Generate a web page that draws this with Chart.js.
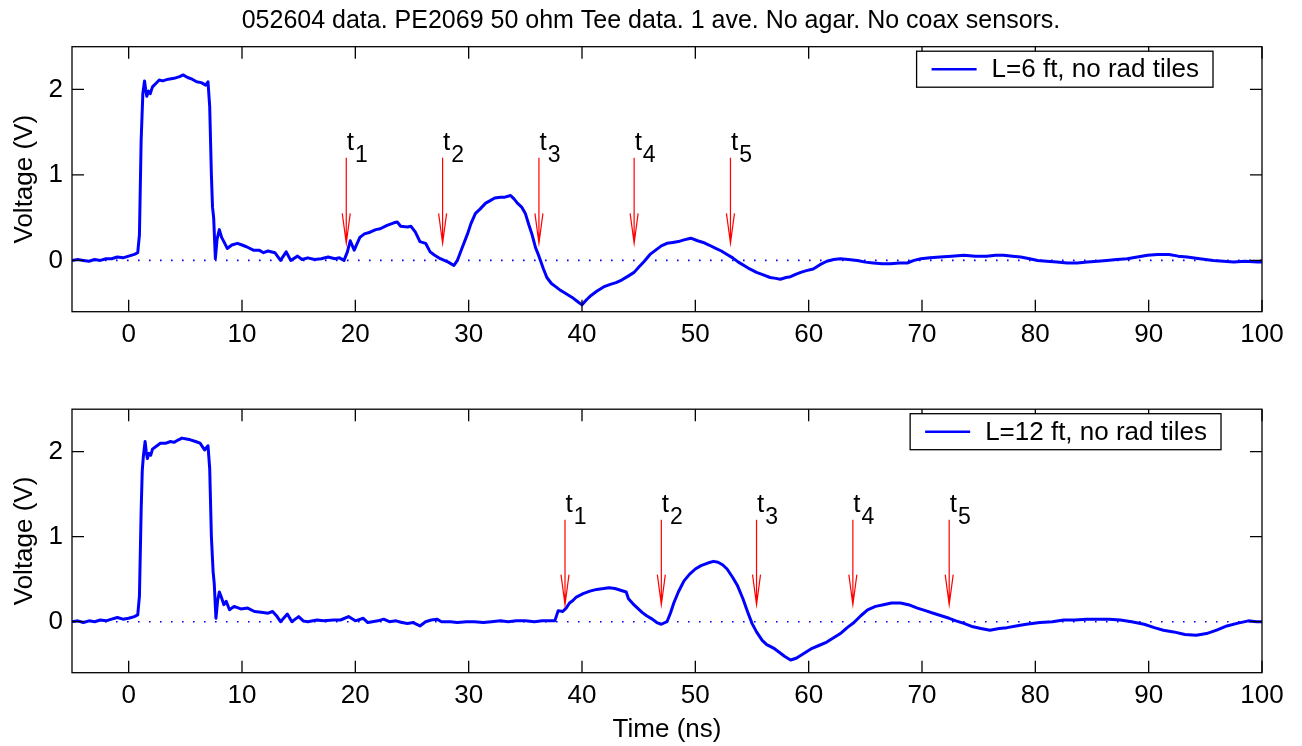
<!DOCTYPE html>
<html>
<head>
<meta charset="utf-8">
<script src="https://cdn.jsdelivr.net/npm/chart.js@4/dist/chart.umd.min.js"></script>
<style>
  html, body { margin: 0; padding: 0; background: #fff; }
  canvas { position: absolute; left: 0; }
  #top-chart { top: 0; }
  #bottom-chart { top: 360px; }
</style>
</head>
<body>
<canvas id="top-chart" width="1302" height="360"></canvas>
<canvas id="bottom-chart" width="1302" height="386"></canvas>
<script>
const figTitle = "052604 data. PE2069 50 ohm Tee data. 1 ave. No agar. No coax sensors.";
const topLabel = "L=6 ft, no rad tiles";
const bottomLabel = "L=12 ft, no rad tiles";
const xTicks = [0, 10, 20, 30, 40, 50, 60, 70, 80, 90, 100];
const yTicks = [0, 1, 2];
const xRange = [-5, 100];
const yRange = [-0.6, 2.5];
const baseline = [0, 0];

// arrow times (ns), arrows run from 1.2 V down to 0.2 V
const topArrows = [19.2, 27.7, 36.2, 44.6, 53.1];
const bottomArrows = [38.5, 47.0, 55.4, 63.9, 72.4];
const arrowSpan = [1.2, 0.2];

// [time ns, voltage V]
const topTrace = [
  [-5,0.0],[-4.5,0.01],[-4,0.0],[-3.5,-0.01],[-3,0.01],[-2.5,0.0],[-2,0.02],[-1.5,0.02],[-1,0.04],[-0.5,0.03],
  [0,0.05],[0.5,0.07],[0.8,0.09],[0.95,0.3],[1.1,1.4],[1.25,1.95],[1.4,2.1],[1.5,2.0],[1.6,1.92],[1.75,1.98],
  [1.9,1.95],[2.1,2.03],[2.4,2.07],[2.7,2.11],[3.0,2.1],[3.5,2.12],[4.0,2.13],[4.5,2.15],[4.8,2.17],[5.2,2.14],
  [5.6,2.12],[6.0,2.09],[6.4,2.08],[6.8,2.05],[7.0,2.09],[7.15,1.8],[7.3,1.0],[7.4,0.62],[7.5,0.5],[7.65,0.02],
  [7.8,0.25],[8.0,0.36],[8.2,0.27],[8.4,0.22],[8.7,0.14],[9.1,0.18],[9.6,0.2],[10.0,0.18],[10.4,0.16],[11.0,0.12],
  [11.5,0.12],[11.9,0.09],[12.3,0.11],[12.9,0.09],[13.4,0.0],[13.9,0.1],[14.3,0.0],[14.9,0.05],[15.3,0.01],[15.8,0.03],
  [16.4,0.01],[17.0,0.02],[17.6,0.04],[18.2,0.02],[18.6,0.03],[19.0,0.0],[19.3,0.1],[19.55,0.23],[19.9,0.12],[20.4,0.27],
  [20.8,0.31],[21.3,0.33],[21.8,0.36],[22.2,0.37],[22.8,0.41],[23.4,0.44],[23.7,0.45],[24.0,0.40],[24.6,0.39],[24.9,0.40],
  [25.3,0.33],[25.7,0.22],[26.2,0.2],[26.6,0.1],[27.0,0.06],[27.5,0.02],[28.2,-0.02],[28.7,-0.06],[29.0,0.0],[29.4,0.14],
  [29.9,0.31],[30.2,0.43],[30.6,0.55],[31.0,0.6],[31.5,0.67],[31.9,0.7],[32.3,0.73],[32.8,0.74],[33.2,0.74],[33.7,0.76],
  [34.0,0.72],[34.3,0.67],[34.7,0.62],[35.0,0.55],[35.3,0.42],[35.6,0.3],[35.9,0.15],[36.2,0.05],[36.6,-0.1],[36.9,-0.2],
  [37.3,-0.27],[37.7,-0.31],[38.1,-0.35],[38.6,-0.39],[39.1,-0.43],[39.6,-0.48],[40.0,-0.52],[40.4,-0.46],[40.8,-0.41],
  [41.3,-0.36],[41.9,-0.31],[42.5,-0.28],[43.0,-0.26],[43.5,-0.23],[44.0,-0.19],[44.6,-0.14],[45.0,-0.08],[45.5,-0.01],[46.0,0.07],
  [46.5,0.12],[47.0,0.17],[47.5,0.2],[48.0,0.21],[48.5,0.22],[49.0,0.24],[49.6,0.26],[50.2,0.23],[50.7,0.21],[51.2,0.18],
  [51.8,0.14],[52.3,0.11],[52.8,0.07],[53.3,0.03],[53.8,-0.02],[54.3,-0.06],[54.8,-0.1],[55.4,-0.14],[56.0,-0.17],[56.6,-0.2],
  [57.1,-0.21],[57.5,-0.22],[58.0,-0.2],[58.4,-0.19],[58.9,-0.16],[59.3,-0.14],[59.8,-0.12],[60.4,-0.1],[61.0,-0.05],[61.6,-0.01],
  [62.2,0.01],[62.8,0.02],[63.5,0.01],[64.3,0.0],[65.0,-0.02],[65.7,-0.03],[66.5,-0.04],[67.2,-0.04],[68.0,-0.03],[68.7,-0.03],
  [69.3,0.0],[69.9,0.02],[70.7,0.03],[71.6,0.04],[72.6,0.05],[73.7,0.06],[74.7,0.05],[75.7,0.05],[76.5,0.06],[77.2,0.06],
  [78.0,0.05],[78.7,0.04],[79.5,0.02],[80.2,0.0],[81.0,-0.01],[81.9,-0.02],[82.8,-0.03],[83.7,-0.03],[84.6,-0.02],[85.5,-0.01],
  [86.3,0.0],[87.2,0.01],[88.1,0.02],[89.0,0.04],[89.9,0.06],[90.8,0.07],[91.8,0.07],[92.6,0.05],[93.4,0.04],[94.5,0.02],
  [95.7,0.0],[96.6,-0.01],[97.5,-0.02],[98.5,-0.01],[99.6,-0.02],[100,-0.02]
];

const bottomTrace = [
  [-5,0.0],[-4.5,0.01],[-4,-0.01],[-3.5,0.01],[-3,0.0],[-2.5,0.02],[-2,0.01],[-1.5,0.03],[-1,0.05],[-0.5,0.03],
  [0,0.04],[0.5,0.06],[0.8,0.08],[0.95,0.3],[1.1,1.3],[1.2,1.78],[1.3,1.95],[1.45,2.12],[1.55,2.0],[1.65,1.92],
  [1.8,1.98],[1.95,1.96],[2.1,2.03],[2.5,2.07],[2.8,2.1],[3.3,2.1],[3.7,2.12],[4.0,2.11],[4.4,2.14],[4.7,2.16],
  [5.1,2.15],[5.45,2.14],[5.9,2.12],[6.3,2.1],[6.7,2.02],[7.0,2.07],[7.15,1.8],[7.3,1.0],[7.45,0.59],[7.55,0.45],
  [7.7,0.04],[7.85,0.25],[8.0,0.35],[8.2,0.28],[8.4,0.2],[8.6,0.24],[8.9,0.14],[9.3,0.18],[9.9,0.15],[10.5,0.16],
  [11.1,0.12],[11.7,0.11],[12.3,0.1],[12.7,0.12],[13.1,0.06],[13.4,0.0],[14.0,0.09],[14.4,0.0],[14.7,0.03],[15.0,0.06],
  [15.4,0.01],[15.8,0.0],[16.6,0.02],[17.2,0.01],[18.1,0.02],[18.7,0.02],[19.4,0.06],[20.0,0.01],[20.7,0.04],[21.1,-0.01],
  [21.5,0.0],[22.0,0.01],[22.5,0.03],[23.0,0.0],[23.6,0.01],[24.1,-0.01],[24.6,-0.02],[25.1,-0.01],[25.7,-0.05],[26.2,0.0],
  [26.7,0.02],[27.2,0.03],[27.6,0.0],[28.4,0.0],[29.0,-0.01],[29.8,0.0],[30.5,0.0],[31.3,-0.01],[32.0,0.0],[32.8,0.01],
  [33.5,0.0],[34.2,0.01],[35.0,0.01],[35.8,0.0],[36.5,0.01],[37.2,0.01],[37.6,0.01],[37.9,0.13],[38.3,0.12],[38.6,0.16],
  [38.9,0.22],[39.2,0.25],[39.5,0.29],[40.1,0.33],[40.7,0.36],[41.3,0.38],[41.9,0.39],[42.4,0.40],
  [42.9,0.39],[43.4,0.37],[43.9,0.35],[44.1,0.27],[44.5,0.21],[44.9,0.16],[45.3,0.11],[45.7,0.07],[46.2,0.03],[46.6,-0.01],
  [47.0,-0.03],[47.5,0.0],[47.8,0.1],[48.1,0.22],[48.5,0.35],[49.0,0.48],[49.5,0.56],[50.0,0.62],[50.5,0.66],[51.1,0.69],
  [51.6,0.71],[52.0,0.7],[52.4,0.67],[52.8,0.62],[53.3,0.52],[53.7,0.43],[54.2,0.27],[54.6,0.12],[55.0,-0.02],[55.4,-0.12],
  [55.9,-0.22],[56.3,-0.27],[56.9,-0.31],[57.4,-0.36],[57.9,-0.41],[58.4,-0.45],[58.9,-0.43],[59.5,-0.38],[60.2,-0.32],[60.9,-0.28],
  [61.6,-0.24],[62.2,-0.19],[62.8,-0.14],[63.4,-0.07],[64.0,-0.01],[64.6,0.07],[65.2,0.14],[65.9,0.18],[66.6,0.2],[67.3,0.22],
  [68.1,0.22],[68.8,0.2],[69.6,0.16],[70.3,0.13],[71.0,0.1],[71.7,0.07],[72.4,0.04],[73.0,0.01],[73.7,-0.02],[74.5,-0.06],
  [75.2,-0.08],[76.0,-0.1],[76.8,-0.08],[77.5,-0.07],[78.3,-0.05],[79.2,-0.03],[80.4,-0.01],[81.5,0.0],[82.5,0.02],[83.5,0.02],
  [84.5,0.03],[85.4,0.03],[86.5,0.03],[87.5,0.02],[88.5,0.0],[89.6,-0.03],[90.5,-0.07],[91.3,-0.1],[92.2,-0.12],[93.2,-0.15],
  [94.2,-0.16],[95.1,-0.14],[96.0,-0.1],[96.9,-0.05],[97.8,-0.02],[98.8,0.01],[99.5,0.0],[100,0.0]
];

const FONT = "'Liberation Sans', Arial, Helvetica, sans-serif";
Chart.defaults.font.family = FONT;
Chart.defaults.color = "#000";

// box, inward ticks, arrows with t_n labels, legend and figure title
const axesDecor = {
	id: "decor",
	afterDatasetsDraw(chart, args, opts) {
		const { ctx, chartArea: a, scales: { x, y } } = chart;
		ctx.save();
		ctx.strokeStyle = "#000";
		ctx.lineWidth = 1.3;
		ctx.beginPath();
		x.ticks.forEach((t) => {
			const px = x.getPixelForValue(t.value);
			ctx.moveTo(px, a.bottom); ctx.lineTo(px, a.bottom - 12);
			ctx.moveTo(px, a.top); ctx.lineTo(px, a.top + 12);
		});
		y.ticks.forEach((t) => {
			const py = y.getPixelForValue(t.value);
			ctx.moveTo(a.left, py); ctx.lineTo(a.left + 12, py);
			ctx.moveTo(a.right, py); ctx.lineTo(a.right - 12, py);
		});
		ctx.stroke();
		ctx.strokeRect(a.left, a.top, a.right - a.left, a.bottom - a.top);

		// arrows
		ctx.strokeStyle = "#ff0000";
		ctx.lineWidth = 1.2;
		ctx.fillStyle = "#000";
		ctx.textBaseline = "alphabetic";
		ctx.textAlign = "left";
		opts.arrows.forEach((t, i) => {
			const px = x.getPixelForValue(t);
			const y0 = y.getPixelForValue(arrowSpan[0]);
			const y1 = y.getPixelForValue(arrowSpan[1]);
			ctx.beginPath();
			ctx.moveTo(px, y0); ctx.lineTo(px, y1);
			ctx.moveTo(px - 4, y1 - 30); ctx.lineTo(px, y1); ctx.lineTo(px + 4, y1 - 30);
			ctx.stroke();
			ctx.font = "26px " + FONT;
			ctx.fillText("t", px + 0.5, y0 - 8);
			const w = ctx.measureText("t").width;
			ctx.font = "23px " + FONT;
			ctx.fillText(String(i + 1), px + 0.5 + w + 1, y0 + 4);
		});

		// legend
		const ds = chart.data.datasets[0];
		ctx.font = "26px " + FONT;
		const tw = ctx.measureText(ds.label).width;
		const bw = 75 + tw + 14, bh = 36;
		const bx = a.right - opts.legendRight - bw, by = a.top + 4.5;
		ctx.fillStyle = "#fff";
		ctx.fillRect(bx, by, bw, bh);
		ctx.strokeStyle = "#000";
		ctx.lineWidth = 1.3;
		ctx.strokeRect(bx, by, bw, bh);
		ctx.strokeStyle = ds.borderColor;
		ctx.lineWidth = 2.6;
		ctx.beginPath();
		ctx.moveTo(bx + 15, by + bh / 2); ctx.lineTo(bx + 60, by + bh / 2);
		ctx.stroke();
		ctx.fillStyle = "#000";
		ctx.textBaseline = "middle";
		ctx.fillText(ds.label, bx + 75, by + bh / 2 + 1);

		// figure title, centred on the whole figure
		if (opts.title) {
			ctx.font = "25px " + FONT;
			ctx.textAlign = "center";
			ctx.textBaseline = "alphabetic";
			ctx.fillText(opts.title, chart.width / 2, 27.5);
		}
		ctx.restore();
	},
};

function makeConfig(trace, label, arrows, extra) {
	return {
		type: "line",
		data: {
			datasets: [
				{
					label,
					data: trace.map(([t, v]) => ({ x: t, y: v })),
					borderColor: "#0000ff",
					borderWidth: 3,
					pointRadius: 0,
					tension: 0,
					borderJoinStyle: "round",
				},
				{
					label: "zero",
					data: xRange.map((t, i) => ({ x: t, y: baseline[i] })),
					borderColor: "#0000ff",
					borderWidth: 1.6,
					borderDash: [1.6, 9.4],
					pointRadius: 0,
				},
			],
		},
		options: {
			responsive: false,
			animation: false,
			events: [],
			layout: { padding: extra.padding },
			plugins: {
				legend: { display: false },
				tooltip: { enabled: false },
				title: { display: false },
				decor: { arrows, legendRight: extra.legendRight, title: extra.title },
			},
			scales: {
				x: {
					type: "linear",
					min: xRange[0],
					max: xRange[1],
					grid: { display: false, drawTicks: false },
					border: { display: false },
					afterBuildTicks: (s) => { s.ticks = xTicks.map((v) => ({ value: v })); },
					afterFit: (s) => { s.height = extra.xHeight; },
					ticks: { font: { size: 26 }, padding: 8, maxRotation: 0, autoSkip: false },
					title: extra.xTitle,
				},
				y: {
					type: "linear",
					min: yRange[0],
					max: yRange[1],
					grid: { display: false, drawTicks: false },
					border: { display: false },
					afterBuildTicks: (s) => { s.ticks = yTicks.map((v) => ({ value: v })); },
					afterFit: (s) => { s.width = 72; },
					ticks: { font: { size: 26 }, padding: 9 },
					title: { display: true, text: "Voltage (V)", font: { size: 26 }, padding: { top: 9, bottom: 0 } },
				},
			},
		},
		plugins: [axesDecor],
	};
}

window.topChart = new Chart(document.getElementById("top-chart"), makeConfig(topTrace, topLabel, topArrows, {
	padding: { left: 0, right: 40, top: 46.7, bottom: 0 },
	title: figTitle,
	xHeight: 48.3,
	xTitle: { display: false },
	legendRight: 49,
}));

window.bottomChart = new Chart(document.getElementById("bottom-chart"), makeConfig(bottomTrace, bottomLabel, bottomArrows, {
	padding: { left: 0, right: 40, top: 49.2, bottom: 0 },
	title: null,
	xHeight: 73.3,
	xTitle: { display: true, text: "Time (ns)", font: { size: 26 }, padding: { top: 0, bottom: 1 } },
	legendRight: 41,
}));
</script>
</body>
</html>
